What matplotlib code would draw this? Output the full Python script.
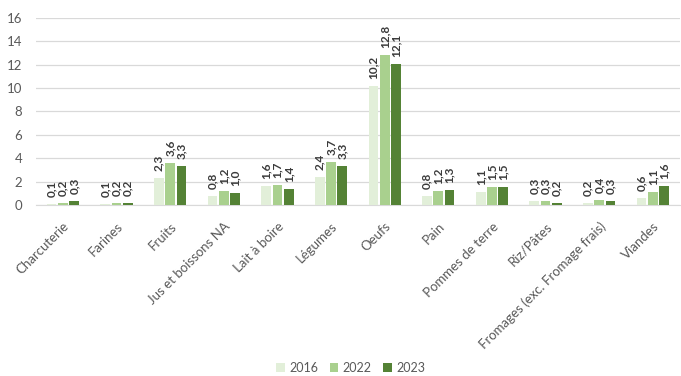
import matplotlib
matplotlib.use("Agg")
import matplotlib.pyplot as plt
import numpy as np

categories = ["Charcuterie", "Farines", "Fruits", "Jus et boissons NA", "Lait à boire",
              "Légumes", "Oeufs", "Pain", "Pommes de terre", "Riz/Pâtes",
              "Fromages (exc. Fromage frais)", "Viandes"]
years = ["2016", "2022", "2023"]
values_2016 = [0.1, 0.1, 2.3, 0.8, 1.6, 2.4, 10.2, 0.8, 1.1, 0.3, 0.2, 0.6]
values_2022 = [0.2, 0.2, 3.6, 1.2, 1.7, 3.7, 12.8, 1.2, 1.5, 0.3, 0.4, 1.1]
values_2023 = [0.3, 0.2, 3.3, 1.0, 1.4, 3.3, 12.1, 1.3, 1.5, 0.2, 0.3, 1.6]
y_ticks = [0, 2, 4, 6, 8, 10, 12, 14, 16]

colors = ["#e2efd9", "#a9d08e", "#548235"]
series = [values_2016, values_2022, values_2023]

plt.rcParams["font.family"] = ["Lato", "DejaVu Sans"]

fig = plt.figure(figsize=(6.81, 3.76), dpi=100)
ax = fig.add_axes([0.053, 0.455, 0.945, 0.497])

x = np.arange(len(categories))
width = 0.18
step = 0.21
for i, (vals, col, yr) in enumerate(zip(series, colors, years)):
    pos = x + (i - 1) * step
    bars = ax.bar(pos, vals, width=width, color=col, label=yr, zorder=3)
    for b, v in zip(bars, vals):
        ax.annotate(f"{v:.1f}".replace(".", ","),
                    xy=(b.get_x() + b.get_width() / 2, b.get_height()),
                    xytext=(0, 5), textcoords="offset points",
                    rotation=90, ha="center", va="bottom",
                    fontsize=8.5, fontweight="bold", color="#3a3a3a")

ax.set_xlim(-0.5, len(categories) - 0.5)
ax.set_ylim(0, 16)
ax.set_yticks(y_ticks)
ax.set_yticklabels([str(t) for t in y_ticks], fontsize=9.5, color="#595959")
ax.set_xticks(x)
ax.set_xticklabels(categories, rotation=45, ha="right", rotation_mode="anchor",
                   fontsize=9.5, color="#595959")
ax.tick_params(axis="both", length=0)
ax.tick_params(axis="x", pad=11)
ax.tick_params(axis="y", pad=10)
ax.grid(axis="y", color="#d9d9d9", linewidth=0.9, zorder=0)
for s in ["top", "right", "left"]:
    ax.spines[s].set_visible(False)
ax.spines["bottom"].set_color("#d9d9d9")

fig.legend(loc="lower center", bbox_to_anchor=(0.515, -0.025), ncol=3, frameon=False,
           fontsize=9, handlelength=0.7, handleheight=0.7, handletextpad=0.35,
           columnspacing=0.9, labelcolor="#595959")

fig.savefig("out.png", dpi=100)
